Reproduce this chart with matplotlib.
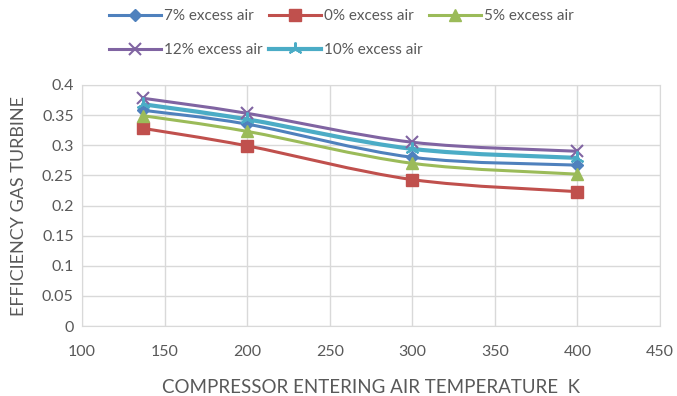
import matplotlib
matplotlib.use("Agg")
import matplotlib.pyplot as plt
from matplotlib.path import Path
from matplotlib.patches import PathPatch
from matplotlib.lines import Line2D
import numpy as np

plt.rcParams['font.family'] = ['Lato', 'DejaVu Sans']

temps = [137, 200, 300, 400]
eff_7 = [0.358, 0.335, 0.280, 0.267]
eff_0 = [0.328, 0.299, 0.243, 0.223]
eff_5 = [0.349, 0.323, 0.270, 0.252]
eff_12 = [0.378, 0.353, 0.305, 0.290]
eff_10 = [0.368, 0.343, 0.294, 0.279]
labels = ["7% excess air", "0% excess air", "5% excess air", "12% excess air", "10% excess air"]
xticks = [100, 150, 200, 250, 300, 350, 400, 450]
yticks = [0, 0.05, 0.1, 0.15, 0.2, 0.25, 0.3, 0.35, 0.4]

series = [
    (eff_7, '#4F81BD', 'D', 6, 2.2),
    (eff_0, '#C0504D', 's', 9, 2.2),
    (eff_5, '#9BBB59', '^', 9, 2.2),
    (eff_12, '#8064A2', 'x', 9, 2.2),
    (eff_10, '#4BACC6', (3, 2, 0), 10, 3.0),
]

fig = plt.figure(figsize=(6.77, 3.96), dpi=100)
ax = fig.add_axes([82/677, 70/396, (660-82)/677, (326-85)/396])
grid_c = '#D9D9D9'
text_c = '#595959'

def smooth_path(xs, ys):
    P = np.column_stack([xs, ys]).astype(float)
    n = len(P)
    verts = [P[0]]
    codes = [Path.MOVETO]
    for i in range(n - 1):
        p0 = P[i - 1] if i > 0 else P[i]
        p1 = P[i]
        p2 = P[i + 1]
        p3 = P[i + 2] if i + 2 < n else P[i + 1]
        c1 = p1 + (p2 - p0) / 6.0
        c2 = p2 - (p3 - p1) / 6.0
        verts += [c1, c2, p2]
        codes += [Path.CURVE4] * 3
    return Path(verts, codes)

handles = []
for (vals, col, mk, ms, lw), lab in zip(series, labels):
    patch = PathPatch(smooth_path(temps, vals), fill=False, edgecolor=col, lw=lw,
                      capstyle='round', joinstyle='round', zorder=3)
    ax.add_patch(patch)
    mew = 1.5 if mk in ('x', (3, 2, 0)) else 1
    ax.plot(temps, vals, linestyle='none', marker=mk, ms=ms, color=col,
            markeredgecolor=col, mew=mew, zorder=4)
    handles.append(Line2D([], [], color=col, lw=lw, marker=mk, ms=ms, mew=mew))

ax.set_xlim(100, 450)
ax.set_ylim(0, 0.4)
ax.set_xticks(xticks)
ax.set_yticks(yticks)
ax.set_yticklabels([f"{v:g}" for v in yticks])
ax.grid(True, color=grid_c, lw=1)
ax.set_axisbelow(True)
for s in ax.spines.values():
    s.set_color(grid_c)
ax.tick_params(length=0, colors=text_c, labelsize=11.5, pad=6)
ax.tick_params(axis='x', pad=14)
ax.set_xlabel("COMPRESSOR ENTERING AIR TEMPERATURE  K", color=text_c, fontsize=13.5, labelpad=14)
ax.set_ylabel("EFFICIENCY GAS TURBINE", color=text_c, fontsize=13, labelpad=11)

order = [0, 3, 1, 4, 2]
leg = fig.legend([handles[i] for i in order], [labels[i] for i in order], ncol=3,
                 loc='upper left', bbox_to_anchor=(100/677, 1.0), frameon=False,
                 fontsize=11, handlelength=3.4, columnspacing=0.4, handletextpad=0.2,
                 labelspacing=1.3, borderaxespad=0.2)
for t in leg.get_texts():
    t.set_color(text_c)

fig.savefig("out.png", dpi=100)
